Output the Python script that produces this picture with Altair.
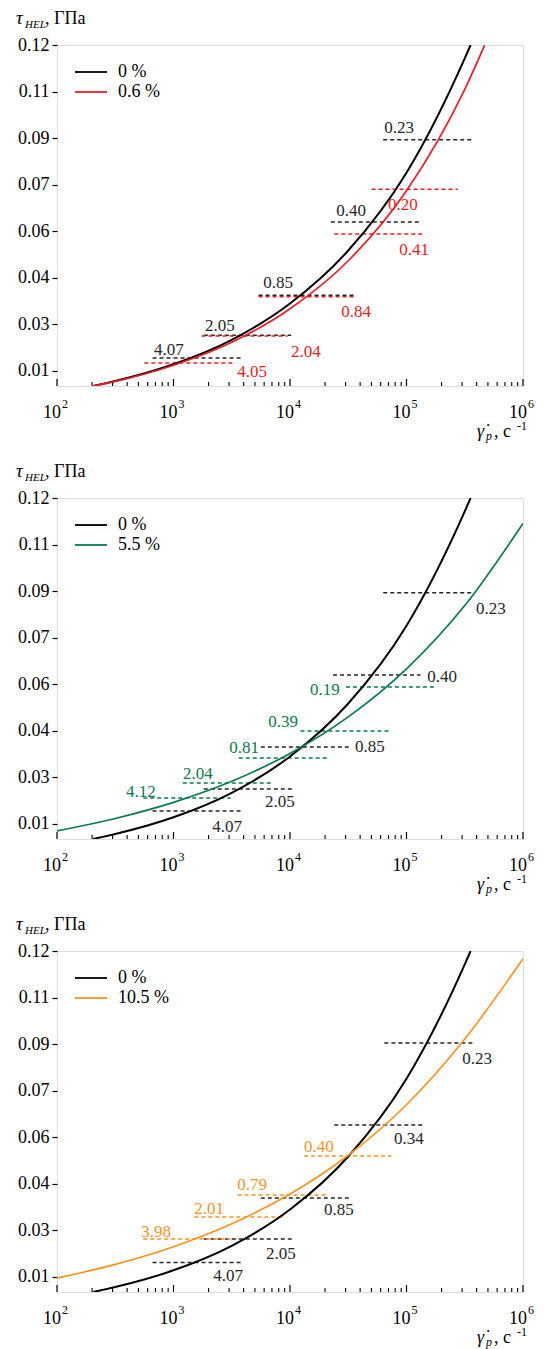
import altair as alt
import pandas as pd

FONT = "Liberation Serif, Times New Roman, Tinos, serif"
W, H = 466, 341

# axes
x_ticks = [100, 1000, 10000, 100000, 1000000]
x_base = ["10", "10", "10", "10", "10"]
x_exps = ["2", "3", "4", "5", "6"]
x_minor = [m * 10 ** k for k in range(2, 6) for m in range(2, 10)]
y_ticks = [0.015, 0.03, 0.045, 0.06, 0.075, 0.09, 0.105, 0.12]
y_labels = ["0.01", "0.03", "0.04", "0.06", "0.07", "0.09", "0.11", "0.12"]

# curves (strain rate, tau_HEL)
ref_rate = [204, 316, 1000, 3162, 10000, 31623, 100000, 316228, 354800]
ref_tau = [0.0100, 0.0116, 0.0170, 0.0249, 0.0366, 0.0537, 0.0788, 0.1157, 0.1200]

red_rate = [204, 316, 1000, 3162, 10000, 31623, 100000, 316228, 467700]
red_tau = [0.0100, 0.0115, 0.0167, 0.0241, 0.0349, 0.0504, 0.0730, 0.1057, 0.1199]

green_rate = [100, 316, 1000, 3162, 10000, 31623, 100000, 316228, 1000000]
green_tau = [0.0126, 0.0166, 0.0218, 0.0286, 0.0376, 0.0494, 0.0649, 0.0853, 0.1118]

orange_rate = [100, 316, 1000, 3162, 10000, 31623, 100000, 316228, 1000000]
orange_tau = [0.0145, 0.0189, 0.0246, 0.0320, 0.0416, 0.0541, 0.0704, 0.0916, 0.1175]

# dashed segments: labels, rate from, rate to, level; label anchor rate / tau
p1_k_lbl = ["4.07", "2.05", "0.85", "0.40", "0.23"]
p1_k_r1 = [661, 1820, 5370, 22400, 63100]
p1_k_r2 = [3800, 10230, 36300, 132000, 372000]
p1_k_t = [0.0190, 0.0264, 0.0393, 0.0629, 0.0894]
p1_k_lr = [914, 2506, 7890, 33400, 86300]
p1_k_lt = [0.0216, 0.0293, 0.0432, 0.0664, 0.0931]

p1_c_lbl = ["4.05", "2.04", "0.84", "0.41", "0.20"]
p1_c_r1 = [562, 1740, 5370, 24000, 50100]
p1_c_r2 = [3240, 9550, 36300, 138000, 275000]
p1_c_t = [0.0174, 0.0261, 0.0388, 0.0590, 0.0735]
p1_c_lr = [4720, 13700, 36900, 116000, 93300]
p1_c_lt = [0.0145, 0.0210, 0.0339, 0.0539, 0.0684]

p2_k_lbl = ["0.23", "0.40", "0.85", "2.05", "4.07"]
p2_k_r1 = [63100, 23400, 5620, 1820, 661]
p2_k_r2 = [372000, 132000, 33100, 10700, 3800]
p2_k_t = [0.0894, 0.0629, 0.0397, 0.0261, 0.0190]
p2_k_lr = [531000, 202000, 48600, 8200, 2880]
p2_k_lt = [0.0842, 0.0623, 0.0397, 0.0219, 0.0139]

p2_c_lbl = ["4.12", "2.04", "0.81", "0.39", "0.19"]
p2_c_r1 = [550, 1200, 3630, 12300, 30200]
p2_c_r2 = [3090, 7080, 21400, 74100, 178000]
p2_c_t = [0.0232, 0.0281, 0.0361, 0.0448, 0.0590]
p2_c_lr = [526, 1622, 4030, 8710, 19950]
p2_c_lt = [0.0252, 0.0310, 0.0392, 0.0477, 0.0581]

p3_k_lbl = ["0.23", "0.34", "0.85", "2.05", "4.07"]
p3_k_r1 = [64600, 24000, 5620, 1820, 661]
p3_k_r2 = [372000, 138000, 33100, 10700, 3800]
p3_k_t = [0.0903, 0.0639, 0.0403, 0.0271, 0.0195]
p3_k_lr = [403000, 105000, 26300, 8370, 2940]
p3_k_lt = [0.0852, 0.0594, 0.0364, 0.0224, 0.0152]

p3_c_lbl = ["3.98", "2.01", "0.79", "0.40"]
p3_c_r1 = [550, 1510, 3550, 13200]
p3_c_r2 = [3090, 8910, 20400, 74100]
p3_c_t = [0.0271, 0.0342, 0.0413, 0.0539]
p3_c_lr = [708, 2020, 4720, 17700]
p3_c_lt = [0.0295, 0.0369, 0.0445, 0.0568]

series_names = ["0 %", "0.6 %", "5.5 %", "10.5 %"]
BLACK = "#000000"
DARK = "#262626"
RED = "#ed1c24"
GREEN = "#0b7a4e"
ORANGE = "#f7941d"

label_expr = "[" + ",".join("'%s'" % s for s in y_labels) + "][round((datum.value - 0.015) / 0.015)]"

xs = alt.Scale(type="log", domain=[100, 1000000], nice=False)
ys = alt.Scale(domain=[0.01, 0.12], nice=False, zero=False)
X = alt.X("rate:Q", scale=xs, axis=None)
Y = alt.Y("tau:Q", scale=ys, axis=alt.Axis(
    values=y_ticks, labelExpr=label_expr, title=None, grid=False, domain=False,
    tickSize=5, tickWidth=1.2, tickColor="black", labelFont=FONT,
    labelFontSize=18, labelColor="black", labelPadding=3))


def ptext(s, x, y, size, italic=False, align="left", color="black"):
    return alt.Chart(pd.DataFrame({"t": [s]})).mark_text(
        font=FONT, fontSize=size, fontStyle="italic" if italic else "normal",
        align=align, baseline="alphabetic", color=color
    ).encode(x=alt.value(x), y=alt.value(y), text="t:N")


def curve(rate, tau, color, width):
    df = pd.DataFrame({"rate": rate, "tau": tau})
    return alt.Chart(df).mark_line(color=color, strokeWidth=width, clip=True,
                                   interpolate="monotone").encode(x=X, y=Y)


def dashes(r1, r2, t, color):
    df = pd.DataFrame({"rate": r1, "rate2": r2, "tau": t})
    return alt.Chart(df).mark_rule(color=color, strokeWidth=1.5,
                                   strokeDash=[4, 3]).encode(x=X, x2="rate2:Q", y=Y)


def labels(lbl, lr, lt, color):
    df = pd.DataFrame({"rate": lr, "tau": lt, "lbl": lbl})
    return alt.Chart(df).mark_text(font=FONT, fontSize=17, color=color,
                                   align="center", baseline="middle").encode(
        x=X, y=Y, text="lbl:N")


def frame_layers():
    maj = pd.DataFrame({"rate": x_ticks, "b": x_base, "e": x_exps})
    mnr = pd.DataFrame({"rate": x_minor})
    major = alt.Chart(maj).mark_rule(color="black", strokeWidth=1.2).encode(
        x=X, y=alt.value(H), y2=alt.value(H - 7))
    minor = alt.Chart(mnr).mark_rule(color="black", strokeWidth=1.1).encode(
        x=X, y=alt.value(H), y2=alt.value(H - 4))
    base = alt.Chart(maj).mark_text(font=FONT, fontSize=18, align="right",
                                    dx=4, color="black").encode(
        x=X, y=alt.value(H + 27), text="b:N")
    exp = alt.Chart(maj).mark_text(font=FONT, fontSize=12, align="left",
                                   dx=5, color="black").encode(
        x=X, y=alt.value(H + 18), text="e:N")
    ytitle = [
        ptext("τ", -41, -21, 19, italic=True),
        ptext("HEL", -32, -17, 11, italic=True),
        ptext(", ГПа", -12, -21, 18),
    ]
    xtitle = [
        ptext("γ\u0307", 420, H + 51, 18, italic=True),
        ptext("p", 429, H + 54, 12, italic=True),
        ptext(", c", 437, H + 51, 18),
        ptext("-1", 460, H + 44, 12),
    ]
    return [major, minor, base, exp] + ytitle + xtitle


def legend(names, colors):
    out = []
    for i, (n, c) in enumerate(zip(names, colors)):
        yy = 27 + 20 * i
        d = pd.DataFrame({"n": [n]})
        out.append(alt.Chart(d).mark_rule(color=c, strokeWidth=1.8).encode(
            x=alt.value(18), x2=alt.value(50), y=alt.value(yy)))
        out.append(alt.Chart(d).mark_text(font=FONT, fontSize=18, align="left",
                                          baseline="middle", color="black").encode(
            x=alt.value(61), y=alt.value(yy), text="n:N"))
    return out


def panel(crate, ctau, color, kd, cd, name):
    layers = [
        dashes(kd[1], kd[2], kd[3], DARK),
        dashes(cd[1], cd[2], cd[3], color),
        labels(kd[0], kd[4], kd[5], DARK),
        labels(cd[0], cd[4], cd[5], color),
        curve(ref_rate, ref_tau, BLACK, 2.0),
        curve(crate, ctau, color, 1.7),
    ] + frame_layers() + legend([series_names[0], name], [BLACK, color])
    return alt.layer(*layers).properties(width=W, height=H)


c1 = panel(red_rate, red_tau, RED,
           (p1_k_lbl, p1_k_r1, p1_k_r2, p1_k_t, p1_k_lr, p1_k_lt),
           (p1_c_lbl, p1_c_r1, p1_c_r2, p1_c_t, p1_c_lr, p1_c_lt), series_names[1])
c2 = panel(green_rate, green_tau, GREEN,
           (p2_k_lbl, p2_k_r1, p2_k_r2, p2_k_t, p2_k_lr, p2_k_lt),
           (p2_c_lbl, p2_c_r1, p2_c_r2, p2_c_t, p2_c_lr, p2_c_lt), series_names[2])
c3 = panel(orange_rate, orange_tau, ORANGE,
           (p3_k_lbl, p3_k_r1, p3_k_r2, p3_k_t, p3_k_lr, p3_k_lt),
           (p3_c_lbl, p3_c_r1, p3_c_r2, p3_c_t, p3_c_lr, p3_c_lt), series_names[3])

chart = alt.vconcat(c1, c2, c3, spacing=112, bounds="flush").properties(
    padding={"left": 7, "top": 0, "right": 0, "bottom": 0}
).configure_view(stroke="black", strokeWidth=1.5).configure(background="white")

chart.save("out.html", embed_options={"renderer": "svg", "actions": False})
